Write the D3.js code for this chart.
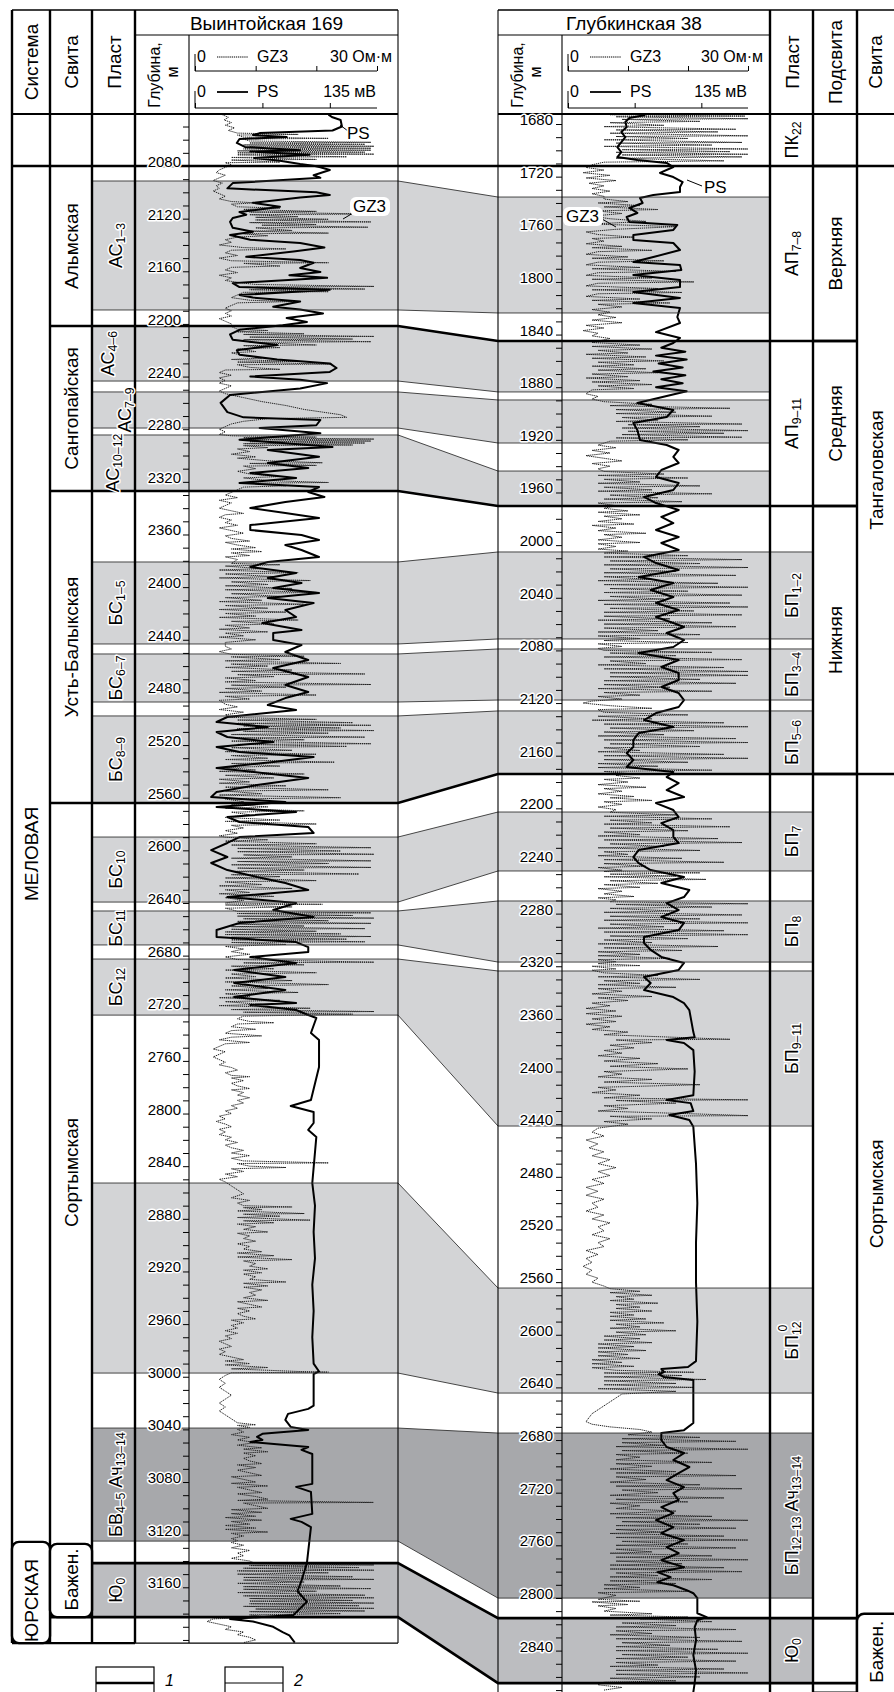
<!DOCTYPE html>
<html>
<head>
<meta charset="utf-8">
<script src="https://cdn.jsdelivr.net/npm/d3@7"></script>
<style>
  body { margin: 0; background: #fff; }
  svg { display: block; font-family: "Liberation Sans", Arial, sans-serif; }
</style>
</head>
<body>
<svg id="chart" width="894" height="1692"></svg>
<script>
// ---- данные: скважины, пласты, свиты ----
const wellNames = ["Выинтойская 169", "Глубкинская 38"];

const depthLabelsLeft = [2080, 2120, 2160, 2200, 2240, 2280, 2320, 2360, 2400, 2440, 2480, 2520, 2560, 2600,
  2640, 2680, 2720, 2760, 2800, 2840, 2880, 2920, 2960, 3000, 3040, 3080, 3120, 3160];
const depthLabelsRight = [1680, 1720, 1760, 1800, 1840, 1880, 1920, 1960, 2000, 2040, 2080, 2120, 2160, 2200,
  2240, 2280, 2320, 2360, 2400, 2440, 2480, 2520, 2560, 2600, 2640, 2680, 2720, 2760, 2800, 2840];

const leftRange = [2040.5, 3202.4];
const rightRange = [1672.4, 2872];

// пласты Выинтойской 169 (label, кровля, подошва, тип)
const leftBeds = [
  {label: "АС_{1–3}", top: 2091.4, base: 2189.4, kind: "light"},
  {label: "АС_{4–6}", top: 2201.6, base: 2243.4, kind: "light"},
  {label: "АС_{7–9}", top: 2251.7, base: 2279.1, kind: "light"},
  {label: "АС_{10–12}", top: 2284.4, base: 2327.0, kind: "light"},
  {label: "БС_{1–5}", top: 2380.9, base: 2443.2, kind: "light"},
  {label: "БС_{6–7}", top: 2450.8, base: 2487.3, kind: "light"},
  {label: "БС_{8–9}", top: 2497.9, base: 2564.0, kind: "light"},
  {label: "БС_{10}", top: 2589.9, base: 2639.3, kind: "light"},
  {label: "БС_{11}", top: 2646.1, base: 2671.9, kind: "light"},
  {label: "БС_{12}", top: 2682.6, base: 2725.2, kind: "light"},
  {label: "", top: 2852.8, base: 2997.2, kind: "light"},
  {label: "БВ_{4–5} Ач_{13–14}", top: 3039.0, base: 3124.9, kind: "dark"},
  {label: "Ю_{0}", top: 3141.6, base: 3182.7, kind: "mid"}
];

// пласты Глубкинской 38 (серые интервалы на каротаже)
const rightBeds = [
  {top: 1735.5, base: 1823.6, kind: "light"},
  {top: 1844.9, base: 1883.6, kind: "light"},
  {top: 1889.7, base: 1922.4, kind: "light"},
  {top: 1943.7, base: 1970.3, kind: "light"},
  {top: 2005.2, base: 2071.3, kind: "light"},
  {top: 2078.9, base: 2117.7, kind: "light"},
  {top: 2126.0, base: 2173.9, kind: "light"},
  {top: 2202.8, base: 2247.6, kind: "light"},
  {top: 2270.4, base: 2316.8, kind: "light"},
  {top: 2323.6, base: 2441.4, kind: "light"},
  {top: 2564.5, base: 2644.3, kind: "light"},
  {top: 2674.7, base: 2800.1, kind: "dark"},
  {top: 2815.3, base: 2864.7, kind: "mid"}
];

// колонка «Пласт» Глубкинской 38
const rightPlast = [
  {label: "ПК_{22}", top: 1672.4, base: 1711.9, kind: "none"},
  {label: "АП_{7–8}", top: 1711.9, base: 1844.9, kind: "none"},
  {label: "АП_{9–11}", top: 1844.9, base: 1970.3, kind: "none"},
  {label: "БП_{1–2}", top: 2005.2, base: 2071.3, kind: "light"},
  {label: "БП_{3–4}", top: 2078.9, base: 2117.7, kind: "light"},
  {label: "БП_{5–6}", top: 2126.0, base: 2173.9, kind: "light"},
  {label: "БП_{7}", top: 2202.8, base: 2247.6, kind: "light"},
  {label: "БП_{8}", top: 2270.4, base: 2316.8, kind: "light"},
  {label: "БП_{9–11}", top: 2323.6, base: 2441.4, kind: "light"},
  {label: "БП_{12}^{0}", top: 2564.5, base: 2644.3, kind: "light"},
  {label: "БП_{12–13} Ач_{13–14}", top: 2674.7, base: 2800.1, kind: "dark"},
  {label: "Ю_{0}", top: 2815.3, base: 2864.7, kind: "mid"}
];

const leftSystems = [["", 2040.5, 2080], ["МЕЛОВАЯ", 2080, 3125.5], ["ЮРСКАЯ", 3125.5, 3202.4]];
const leftSvitas = [["", 2040.5, 2080], ["Альмская", 2080, 2201.6], ["Сангопайская", 2201.6, 2327.0],
  ["Усть-Балыкская", 2327.0, 2564.0], ["Сортымская", 2564.0, 3125.5], ["Бажен.", 3125.5, 3182.7], ["", 3182.7, 3202.4]];
const rightSubsvitas = [["", 1672.4, 1711.9], ["Верхняя", 1711.9, 1844.9], ["Средняя", 1844.9, 1970.3],
  ["Нижняя", 1970.3, 2173.9], ["", 2173.9, 2815.3], ["", 2815.3, 2872]];
const rightSvitas = [["", 1672.4, 1711.9], ["Тангаловская", 1711.9, 2173.9], ["Сортымская", 2173.9, 2812.0], ["Бажен.", 2812.0, 2880]];

// границы свит (линия 1), парно слева/справа
const horizonsLeft = [2080, 2201.6, 2327.0, 2564.0, 3141.6, 3182.7];
const horizonsRight = [1711.9, 1844.9, 1970.3, 2173.9, 2815.3, 2864.7];

// каротаж PS (мВ) и GZ3 (Ом·м): [глубина, значение]
const psLeft = [
  [2041, 99], [2043, 102], [2045, 108], [2050, 109], [2053, 102], [2055, 48], [2056.5, 43], [2058, 68], [2059.5, 33],
  [2062.5, 31], [2065.5, 37], [2068, 78], [2069, 41], [2071.5, 85], [2074, 44], [2076, 63], [2078.5, 78], [2080, 89],
  [2081, 93], [2083, 100], [2087, 88], [2089, 93], [2093, 28], [2097, 24], [2100, 90], [2102, 100], [2104, 78],
  [2108, 43], [2111, 63], [2115, 33], [2117, 38], [2119.5, 28], [2122.5, 26], [2127, 28], [2130, 43], [2132.5, 26],
  [2136, 41], [2138.5, 78], [2142, 96], [2145, 73], [2149, 38], [2151.5, 78], [2153.5, 88], [2157.5, 78], [2160.5, 93],
  [2163, 70], [2165, 98], [2169, 28], [2172, 33], [2174, 100], [2178, 33], [2180, 43], [2183, 78], [2187, 58],
  [2189, 78], [2192, 95], [2195.5, 68], [2198.5, 83], [2201, 65], [2204.5, 33], [2208, 26], [2212, 28], [2216, 61],
  [2220, 31], [2223.5, 33], [2227, 61], [2230, 100], [2233.5, 105], [2236.5, 100], [2240, 41], [2242.5, 78],
  [2245, 98], [2249, 78], [2254, 26], [2260, 19], [2267, 24], [2271, 36], [2273, 93], [2277, 90], [2279, 48],
  [2283, 93], [2288, 33], [2293.5, 102], [2295.8, 54], [2301, 92], [2305.7, 54], [2309.5, 84], [2313.3, 41],
  [2317, 75], [2320.9, 33], [2323.9, 92], [2327.7, 84], [2331.5, 96], [2335.3, 67], [2339.9, 41], [2343.7, 67],
  [2347.5, 92], [2352.8, 41], [2356.6, 41], [2360.4, 79], [2364.2, 92], [2368, 67], [2371.8, 79], [2377.1, 92],
  [2380.9, 54], [2384.7, 41], [2389.3, 75], [2393.1, 54], [2396.9, 79], [2400.7, 58], [2404.5, 92], [2408.3, 54],
  [2412.1, 88], [2417.4, 67], [2422.7, 75], [2427.3, 50], [2432.6, 79], [2434.9, 58], [2440.2, 58], [2444, 79],
  [2449.3, 67], [2455.4, 84], [2461.5, 58], [2468.3, 84], [2474.4, 67], [2479.7, 84], [2484.3, 67], [2489.6, 54],
  [2493.4, 75], [2498.7, 24], [2502.5, 16], [2506.3, 54], [2510.1, 16], [2513.9, 24], [2517.7, 58], [2521.5, 16],
  [2525.3, 33], [2529.1, 88], [2532.9, 58], [2537.5, 16], [2541.2, 50], [2545, 84], [2550.4, 46], [2555.7, 16],
  [2559.5, 12], [2563.3, 67], [2567.1, 16], [2570.9, 75], [2574.7, 24], [2578.5, 33], [2582.3, 84], [2586.8, 88],
  [2589.9, 33], [2594.4, 24], [2599.8, 12], [2605.1, 24], [2609.6, 12], [2615, 24], [2620.3, 46], [2624.8, 67],
  [2630.2, 84], [2635.5, 24], [2640, 75], [2645.3, 58], [2650.7, 88], [2655.2, 33], [2660.5, 16], [2665.9, 16],
  [2669.7, 75], [2673.5, 84], [2677.3, 84], [2681.1, 41], [2685.6, 75], [2690.9, 29], [2696.3, 67], [2700.8, 29],
  [2706.1, 67], [2711.5, 29], [2716, 75], [2717.5, 41], [2721.3, 75], [2725.1, 84], [2727.4, 90], [2738.8, 86],
  [2744.1, 92], [2764.7, 92], [2789.7, 86], [2794.3, 71], [2798.8, 88], [2807.2, 88], [2812.5, 84], [2817.8, 90],
  [2852.8, 87], [2870, 89], [2890, 88], [2910, 89], [2930, 87], [2950, 88], [2970, 87], [2990, 88], [2996, 92],
  [2998, 88], [3010, 88], [3022, 88], [3024.4, 84], [3028.2, 69], [3032.8, 67], [3038.1, 71], [3040.4, 84],
  [3043.4, 50], [3045.7, 46], [3048, 50], [3049.6, 41], [3053.4, 84], [3055.6, 79], [3058.7, 87], [3081.4, 87],
  [3083.7, 75], [3087.5, 86], [3104.2, 87], [3108, 71], [3110.3, 79], [3114.2, 86], [3141.7, 83], [3145, 82],
  [3155, 79], [3163, 76], [3171, 83], [3181, 73], [3184, 26], [3186, 43], [3190, 58], [3194, 65], [3196.5, 70], [3202, 74]
];

const gz3Left = [
  [2041, 4.5], [2043, 5.5], [2045, 4.8], [2047, 6], [2049, 5], [2051, 6.5], [2053, 5.5], [2055, 7], [2056, 17],
  [2056.5, 7], [2058, 8], [2059, 22], [2059.5, 8], [2061, 9], [2062, 29], [2062.5, 9], [2063.5, 28], [2064, 8],
  [2065, 29.5], [2065.5, 9], [2066.5, 29], [2067, 8], [2068, 29], [2068.5, 7], [2069.5, 28], [2070, 7], [2071, 29.5],
  [2071.5, 7], [2073, 25], [2073.5, 6], [2075, 20], [2075.5, 6], [2077, 14], [2077.5, 5], [2079, 6],
  [2081, 5], [2083, 4], [2085, 3.5], [2087, 5], [2089, 4], [2091, 3], [2093, 4.5], [2095, 3.5], [2097, 4], [2099, 3],
  [2101, 4], [2103, 5], [2105, 4], [2107, 6], [2108, 10], [2109, 6], [2111, 7], [2112, 14], [2113, 8], [2114.5, 20],
  [2115, 9], [2116.5, 29.5], [2117, 9], [2118.5, 17], [2119, 10], [2120.5, 22], [2121, 10], [2122.5, 29], [2123, 9],
  [2124.5, 20], [2125, 11], [2126.5, 28.5], [2127, 10], [2129, 16], [2129.5, 9], [2131, 22], [2131.5, 8], [2133, 12],
  [2134, 7], [2136, 5], [2138, 6], [2140, 4], [2142, 8], [2143, 15], [2144, 6], [2146, 5], [2148, 7], [2150, 4],
  [2152, 6], [2153.5, 22], [2154, 8], [2156, 14], [2157, 6], [2159, 5], [2161, 7], [2163, 4], [2165, 6], [2167, 5],
  [2169, 8], [2170, 10], [2171.5, 29.5], [2172, 10], [2173.5, 28], [2174, 9], [2175.5, 22], [2176, 8], [2178, 7],
  [2180, 6], [2182, 9], [2183, 16], [2184, 7], [2186, 6], [2188, 5], [2190, 6], [2192, 5], [2194, 6], [2196, 4],
  [2198, 5], [2200, 6], [2202, 6], [2204, 7], [2205, 12], [2206, 7], [2207.5, 18], [2208, 8], [2209.5, 29.5],
  [2210, 9], [2211.5, 26], [2212, 8], [2213.5, 29], [2214, 9], [2216, 20], [2216.5, 8], [2218, 14], [2219, 7],
  [2221, 10], [2222, 6], [2224, 8], [2226, 11], [2227, 6], [2228.5, 17], [2229, 7], [2230.5, 22.5], [2231, 7],
  [2233, 9], [2234.5, 14], [2235, 5], [2237, 4], [2239, 6], [2241, 4], [2243, 5], [2245, 4], [2247, 6], [2249, 5],
  [2251, 4], [2253, 5], [2256, 8], [2259, 11], [2262, 15], [2265, 18], [2267, 21], [2269, 24], [2271, 25], [2272, 12],
  [2274, 8], [2276, 6], [2278, 5], [2280, 4], [2282, 5], [2284, 4], [2285, 6], [2286, 20], [2286.5, 8], [2287.5, 29.5],
  [2288, 9], [2289, 29], [2289.5, 9], [2290.5, 28], [2291, 8], [2292, 26], [2292.5, 8], [2294, 12], [2295, 7],
  [2297, 9], [2299, 6], [2301, 10], [2302, 7], [2304, 12], [2305.5, 21], [2306, 9], [2307.5, 20], [2308, 8],
  [2310, 10], [2312, 7], [2314, 9], [2316, 14], [2317, 8], [2319, 12], [2320.5, 22], [2321, 9], [2323, 15], [2324, 8],
  [2326, 7], [2328, 6], [2330, 5], [2332, 7], [2334, 4], [2336, 6], [2338, 5], [2340, 4], [2342, 6], [2344, 8],
  [2345, 5], [2347, 4], [2349, 6], [2351, 5], [2353, 7], [2355, 4], [2357, 6], [2359, 8], [2361, 5], [2363, 6],
  [2365, 9], [2366, 5], [2368, 7], [2370, 10], [2371, 6], [2373, 11], [2374, 6], [2376, 9], [2377, 5], [2379, 7],
  [2382, 6], [2383, 14], [2384, 5], [2386, 11], [2387, 4], [2389, 17], [2390, 5], [2392, 13], [2393, 4], [2395, 19],
  [2396, 6], [2398, 12], [2399, 5], [2401, 16], [2402, 5], [2404, 20], [2405, 6], [2407, 14], [2408, 5], [2410, 11],
  [2411, 4], [2413, 18], [2414, 5], [2416, 12], [2417, 4], [2419, 15], [2420, 5], [2422, 10], [2423, 4], [2425, 17],
  [2426, 6], [2428, 13], [2429, 5], [2431, 9], [2432, 4], [2434, 12], [2435, 5], [2437, 8], [2438, 4], [2440, 10],
  [2442, 5], [2445, 5], [2447, 6], [2449, 4], [2451, 6], [2452.5, 18], [2453, 6], [2455, 14], [2456, 5], [2458, 24],
  [2458.5, 6], [2460, 12], [2461, 5], [2463, 16], [2464, 6], [2466, 28], [2466.5, 7], [2468, 13], [2469, 5],
  [2471, 10], [2472, 5], [2474, 29], [2474.5, 6], [2476, 15], [2477, 5], [2479, 11], [2480, 4], [2482, 20], [2483, 5],
  [2485, 9], [2486, 4], [2489, 5], [2491, 7], [2493, 4], [2495, 8], [2497, 5], [2499, 6], [2500.5, 20], [2501, 7],
  [2503, 26], [2503.5, 7], [2505, 29], [2505.5, 8], [2507, 24], [2507.5, 7], [2509, 29.5], [2509.5, 8], [2511, 22],
  [2512, 6], [2514, 28], [2514.5, 7], [2516, 18], [2517, 6], [2519, 29], [2519.5, 7], [2521, 25], [2522, 6],
  [2524, 16], [2525, 5], [2527, 20], [2528, 6], [2530, 12], [2531, 5], [2533, 23], [2534, 6], [2536, 14], [2537, 5],
  [2539, 10], [2540, 4], [2542, 18], [2543, 5], [2545, 13], [2546, 4], [2548, 9], [2549, 4], [2551, 15], [2552, 5],
  [2554, 22], [2555, 5], [2557, 11], [2558, 4], [2560, 24], [2561, 5], [2563, 8], [2565, 6], [2567, 12], [2568, 5],
  [2570, 18], [2571, 6], [2573, 9], [2575, 5], [2577, 14], [2578, 5], [2580, 20], [2581, 6], [2583, 8], [2585, 5],
  [2587, 7], [2589, 4], [2590, 5], [2592, 12], [2593, 5], [2595, 20], [2596, 6], [2598, 29], [2598.5, 7],
  [2600.5, 24], [2601, 7], [2603, 29.5], [2603.5, 8], [2605, 16], [2606, 6], [2608, 29], [2608.5, 7], [2610, 22],
  [2611, 6], [2613, 29], [2613.5, 7], [2615, 18], [2616, 6], [2618, 27], [2618.5, 6], [2620, 14], [2621, 5],
  [2623, 20], [2624, 5], [2626, 11], [2627, 4], [2629, 16], [2630, 5], [2632, 9], [2633, 4], [2635, 13], [2636, 5],
  [2638, 8], [2640, 5], [2641, 21], [2641.5, 5], [2643, 16], [2644, 5], [2645, 6], [2646.5, 7], [2647.5, 29],
  [2648, 7], [2649.5, 26], [2650, 7], [2651.5, 29.5], [2652, 8], [2653.5, 22], [2654, 7], [2655.5, 29], [2656, 7],
  [2657.5, 18], [2658, 6], [2659.5, 28], [2660, 6], [2661.5, 20], [2662, 5], [2663.5, 24], [2664, 5], [2665.5, 29],
  [2666, 6], [2667.5, 25], [2668, 6], [2669.5, 28], [2670, 6], [2671.5, 15], [2673, 5], [2675, 8], [2677, 6],
  [2679, 9], [2681, 5], [2683, 7], [2685, 29.5], [2685.5, 8], [2687, 18], [2688, 6], [2690, 13], [2691, 5],
  [2693, 20], [2694, 6], [2696, 10], [2697, 5], [2699, 16], [2700, 5], [2702, 22], [2703, 6], [2705, 12], [2706, 5],
  [2708, 17], [2709, 5], [2711, 9], [2712, 4], [2714, 14], [2715, 5], [2717, 11], [2718, 4], [2720, 19], [2721, 6],
  [2722.5, 29.5], [2723, 8], [2724.5, 26], [2726, 8], [2728, 7], [2730, 9], [2731, 13], [2732, 7], [2734, 6],
  [2736, 10], [2737, 6], [2739, 5], [2741, 11], [2742, 6], [2744, 4], [2746, 9], [2747, 5], [2749, 4], [2751, 3],
  [2753, 5], [2755, 4], [2757, 3], [2759, 4], [2761, 5], [2763, 4], [2765, 6], [2767, 7], [2769, 5], [2771, 6],
  [2772, 9], [2773, 6], [2775, 8], [2777, 6], [2779, 7], [2781, 9], [2782, 6], [2784, 8], [2786, 7], [2788, 9],
  [2790, 7], [2792, 8], [2794, 6], [2796, 7], [2798, 5], [2800, 6], [2802, 4], [2804, 5], [2806, 3.5], [2808, 5],
  [2810, 6], [2812, 4], [2814, 5], [2816, 4], [2818, 6], [2820, 5], [2822, 7], [2824, 5], [2826, 6], [2828, 8],
  [2830, 6], [2832, 9], [2834, 6], [2836, 8], [2837.5, 22], [2838, 7], [2840, 9], [2841, 15], [2842, 6], [2844, 8],
  [2846, 5], [2848, 7], [2850, 4], [2852, 5], [2855, 6], [2858, 7], [2861, 8], [2864, 6], [2866, 9], [2868, 7],
  [2870, 8], [2871, 16], [2871.5, 8], [2873, 11], [2874, 7], [2876, 18], [2876.5, 8], [2878, 14], [2879, 7],
  [2881, 19], [2881.5, 8], [2883, 13], [2884, 7], [2886, 10], [2888, 8], [2890, 12], [2891, 7], [2893, 9], [2895, 8],
  [2897, 10], [2899, 7], [2901, 9], [2903, 8], [2905, 11], [2906, 7], [2908, 13], [2909, 7], [2911, 16], [2912, 8],
  [2914, 10], [2916, 9], [2918, 12], [2919, 8], [2921, 11], [2922, 8], [2924, 10], [2926, 9], [2928, 15], [2929, 8],
  [2931, 12], [2932, 8], [2934, 11], [2936, 9], [2938, 10], [2940, 8], [2942, 12], [2943, 7], [2945, 9], [2947, 11],
  [2948, 7], [2950, 9], [2952, 7], [2954, 8], [2956, 10], [2957, 6], [2959, 8], [2961, 6], [2963, 7], [2965, 5],
  [2967, 7], [2969, 5], [2971, 6], [2973, 4], [2975, 5], [2977, 6], [2979, 4], [2981, 5], [2983, 4], [2985, 6],
  [2987, 8], [2988, 5], [2990, 9], [2991, 5], [2993, 12], [2994, 6], [2996, 17], [2996.5, 22], [2997, 6], [2999, 5],
  [3002, 4], [3005, 5], [3008, 4], [3011, 5], [3014, 6], [3017, 5], [3020, 4], [3023, 5], [3026, 4], [3029, 5],
  [3032, 6], [3035, 7], [3036.5, 10], [3037, 7], [3038.5, 9], [3040, 7], [3042, 8], [3044, 6], [3046, 9], [3048, 7],
  [3050, 10], [3052, 7], [3054, 11], [3055, 8], [3057, 12], [3058, 8], [3060, 10], [3062, 8], [3064, 9], [3066, 11],
  [3067, 7], [3069, 10], [3071, 7], [3073, 9], [3075, 11], [3076, 6], [3078, 8], [3080, 10], [3081, 6], [3083, 12],
  [3084, 7], [3086, 9], [3088, 11], [3089, 7], [3091, 10], [3093, 12], [3094, 7], [3095.5, 29.4], [3096, 8],
  [3098, 10], [3100, 12], [3101, 6], [3103, 11], [3104, 6], [3106, 10], [3107, 5], [3109, 11], [3110, 6], [3112, 9],
  [3113, 5], [3115, 10], [3116, 5], [3118, 12], [3119, 6], [3121, 8], [3123, 6], [3124.5, 7], [3126, 6], [3128, 8],
  [3130, 6], [3132, 9], [3134, 7], [3136, 8], [3138, 6], [3140, 9], [3142, 10], [3143, 29.5], [3143.5, 9], [3145, 27],
  [3145.5, 8], [3147, 29.5], [3147.5, 7], [3149, 22], [3150, 7], [3152, 26], [3152.5, 8], [3154, 29.5], [3154.5, 8],
  [3156, 18], [3157, 7], [3159, 24], [3159.5, 8], [3161, 29], [3161.5, 8], [3163, 20], [3164, 7], [3166, 28],
  [3166.5, 8], [3168, 29.5], [3168.5, 9], [3170, 26], [3170.5, 9], [3172, 29.5], [3172.5, 9], [3174, 27], [3174.5, 8],
  [3176, 29.5], [3176.5, 10], [3178, 28], [3178.5, 9], [3180, 24], [3181, 9], [3182.5, 12], [3184, 3], [3186, 2],
  [3188, 4], [3190, 6], [3192, 5], [3194, 8], [3196, 7], [3198, 9], [3200, 10], [3202, 8]
];

const psRight = [
  [1673.2, 58], [1675.4, 46], [1678.5, 43], [1682.3, 44], [1686.1, 40], [1689.9, 43], [1693.7, 40], [1697.5, 37],
  [1701.3, 40], [1705.1, 37], [1707.4, 52], [1709.6, 74], [1712.7, 79], [1717.2, 69], [1720.3, 79], [1724.1, 86],
  [1727.9, 84], [1731.7, 84], [1734, 64], [1736.2, 54], [1740, 56], [1743.8, 46], [1747.6, 52], [1750.7, 44],
  [1754.5, 46], [1756.7, 82], [1760.5, 79], [1764.3, 49], [1768.1, 49], [1770.4, 79], [1775.7, 84], [1781.1, 64],
  [1784.9, 49], [1787.1, 84], [1790.9, 85], [1794.7, 49], [1798.5, 84], [1803.9, 84], [1807.7, 49], [1812.2, 84],
  [1816, 49], [1819.8, 84], [1826.7, 82], [1831.2, 84], [1838.1, 66], [1842.6, 84], [1846.4, 79], [1850, 70],
  [1853, 88], [1856, 66], [1859, 89], [1862, 68], [1865, 86], [1868, 64], [1871, 88], [1874, 70], [1877, 86],
  [1880, 66], [1883, 89], [1892, 52], [1897.3, 79], [1902.6, 74], [1907.2, 49], [1912.5, 52], [1920.1, 54],
  [1923.9, 74], [1927.7, 83], [1933, 79], [1937.6, 83], [1942.9, 70], [1948.2, 66], [1952.8, 83], [1958.1, 79],
  [1963.4, 57], [1968, 66], [1973.3, 83], [1978.6, 70], [1983.2, 79], [1988.5, 66], [1993.8, 83], [1998.4, 70],
  [2003.7, 83], [2009, 57], [2013.6, 66], [2018.9, 83], [2024.2, 53], [2028.8, 79], [2034.1, 62], [2039.4, 79],
  [2044, 66], [2049.3, 83], [2054.6, 66], [2059.2, 79], [2062.2, 87], [2066.8, 74], [2072.1, 87], [2077.4, 79],
  [2082, 53], [2087.3, 83], [2092.6, 70], [2097.2, 83], [2102.5, 83], [2107.8, 70], [2112.4, 83], [2117.7, 87],
  [2123, 83], [2127.6, 66], [2132.9, 57], [2138.2, 79], [2142.8, 53], [2148.1, 49], [2153.4, 49], [2158, 44],
  [2163.3, 49], [2168.6, 44], [2172.4, 79], [2176.2, 74], [2180.8, 83], [2186.1, 74], [2191.4, 87], [2196, 66],
  [2201.3, 79], [2206.6, 83], [2211.2, 70], [2216.5, 79], [2221.8, 79], [2226.4, 83], [2231.7, 53], [2237, 49],
  [2241.6, 53], [2246.9, 62], [2252.2, 87], [2256.7, 70], [2262.1, 91], [2267.4, 87], [2272, 74], [2277.3, 83],
  [2282.6, 70], [2287.1, 87], [2292.5, 83], [2297.8, 57], [2302.3, 57], [2307.6, 62], [2312.9, 70], [2317.5, 87],
  [2322.8, 83], [2328.2, 57], [2332.7, 62], [2338.1, 57], [2343.4, 79], [2348, 87], [2353.3, 91], [2370, 94],
  [2374, 95], [2376, 74], [2378.3, 87], [2383.7, 94], [2400, 95], [2418, 94], [2421.6, 74], [2424, 92], [2430, 94],
  [2433, 76], [2436.8, 91], [2442, 94], [2470, 96], [2500, 97], [2530, 96], [2560, 96], [2590, 97], [2620, 96],
  [2624.5, 90], [2626, 70], [2628.3, 72], [2630, 68], [2632.1, 72], [2634.4, 94], [2667.1, 94], [2672.5, 87],
  [2674.7, 70], [2680, 70], [2685.3, 74], [2689.9, 87], [2695.2, 79], [2700.5, 91], [2705.1, 83], [2710.5, 74],
  [2715.8, 87], [2720.3, 79], [2725.6, 83], [2731, 70], [2735.5, 79], [2740.9, 66], [2746.2, 79], [2750.8, 70],
  [2756.1, 87], [2761.4, 74], [2766, 83], [2771.3, 70], [2776.6, 87], [2780.4, 67], [2784.2, 77], [2788, 67],
  [2790.3, 79], [2794.1, 89], [2796.4, 94], [2800.2, 97], [2811.6, 97], [2814.6, 104], [2816.9, 97], [2822.2, 95],
  [2832.1, 96], [2843.5, 94], [2854.9, 96], [2864.7, 95], [2871.5, 94]
];

const gz3Right = [
  [1673, 7], [1674, 29.5], [1674.5, 8], [1676, 30], [1676.5, 9], [1678, 22], [1679, 7], [1681, 16], [1682, 6],
  [1684, 28], [1684.5, 8], [1686, 25], [1687, 7], [1689, 30], [1689.5, 8], [1691, 20], [1692, 6], [1694, 29],
  [1694.5, 8], [1696, 24], [1697, 6], [1699, 30], [1699.5, 9], [1701, 27], [1701.5, 8], [1703, 30], [1703.5, 9],
  [1705, 29], [1706, 8], [1708, 26], [1709, 6], [1711, 4], [1713, 3], [1715, 6], [1717, 2.5], [1719, 7], [1721, 3],
  [1723, 8], [1725, 3.5], [1727, 6], [1729, 4], [1731, 7], [1733, 4], [1735, 6], [1737, 6], [1739, 10], [1740, 5],
  [1742, 12], [1743, 6], [1745, 15], [1746, 5], [1748, 9], [1750, 4], [1752, 7], [1754, 13], [1756, 4], [1758, 18],
  [1760, 8], [1762, 3], [1764, 5], [1766, 11], [1767, 4], [1769, 6], [1771, 3], [1773, 9], [1774, 4], [1776, 14],
  [1777, 5], [1779, 3], [1781, 10], [1782, 4], [1784, 16], [1785, 5], [1787, 3], [1789, 12], [1790, 4], [1792, 18],
  [1793, 5], [1795, 3], [1797, 14], [1798, 4], [1800, 21], [1801, 5], [1803, 3], [1805, 15], [1806, 4], [1808, 19],
  [1809, 5], [1811, 3], [1813, 12], [1814, 4], [1816, 17], [1817, 5], [1819, 9], [1821, 4], [1823, 7], [1825, 5],
  [1827, 8], [1829, 4], [1831, 9], [1833, 3], [1835, 6], [1837, 2.5], [1839, 5], [1841, 4], [1843, 7], [1846, 4],
  [1848, 12], [1849, 4], [1851, 14], [1852, 5], [1854, 10], [1855, 3], [1857, 13], [1858, 4], [1860, 16], [1861, 5],
  [1863, 11], [1864, 4], [1866, 13], [1867, 5], [1869, 15], [1870, 4], [1872, 10], [1873, 3], [1875, 12], [1876, 4],
  [1878, 14], [1879, 5], [1881, 11], [1882, 4], [1885, 3], [1887, 5], [1889, 4], [1891, 6], [1893, 14], [1894, 7],
  [1896, 27], [1897, 8], [1899, 18], [1900, 8], [1902, 24], [1903, 9], [1905, 15], [1906, 8], [1908, 29],
  [1908.5, 10], [1910, 22], [1911, 9], [1913, 30], [1913.5, 10], [1915, 26], [1916, 9], [1918, 29], [1918.5, 8],
  [1920, 20], [1921, 7], [1924, 5], [1926, 8], [1928, 4], [1930, 7], [1932, 3], [1934, 6], [1936, 9], [1938, 4],
  [1940, 7], [1942, 5], [1944, 6], [1946, 16], [1947, 5], [1949, 20], [1950, 6], [1952, 12], [1953, 5], [1955, 22],
  [1956, 6], [1958, 14], [1959, 5], [1961, 24], [1962, 7], [1964, 15], [1965, 6], [1967, 19], [1968, 5], [1970, 8],
  [1972, 6], [1974, 10], [1975, 5], [1977, 12], [1978, 6], [1980, 9], [1982, 5], [1984, 11], [1985, 4], [1987, 8],
  [1989, 5], [1991, 13], [1992, 6], [1994, 9], [1996, 5], [1998, 12], [1999, 5], [2001, 8], [2003, 5], [2004.5, 10],
  [2006, 6], [2008, 20], [2009, 6], [2011, 29], [2012, 7], [2014, 22], [2015, 6], [2017, 30], [2018, 7], [2020, 18],
  [2021, 6], [2023, 28], [2024, 6], [2026, 14], [2027, 5], [2029, 25], [2030, 6], [2032, 30], [2033, 7], [2035, 20],
  [2036, 6], [2038, 29], [2039, 7], [2041, 16], [2042, 5], [2044, 27], [2045, 6], [2047, 30], [2048, 7], [2050, 21],
  [2051, 6], [2053, 29], [2054, 6], [2056, 17], [2057, 5], [2059, 24], [2060, 6], [2062, 28], [2063, 6], [2065, 15],
  [2066, 5], [2068, 22], [2069, 5], [2071, 12], [2072.5, 6], [2074, 20], [2075, 5], [2077, 9], [2078.5, 5],
  [2080, 6], [2081.5, 24], [2082, 7], [2084, 18], [2085, 6], [2087, 29], [2088, 7], [2090, 13], [2091, 5], [2093, 26],
  [2094, 6], [2096, 30], [2097, 7], [2099, 30], [2100, 7], [2102, 22], [2103, 6], [2105, 28], [2106, 6], [2108, 17],
  [2109, 5], [2111, 24], [2112, 6], [2114, 12], [2115, 5], [2117, 9], [2118.5, 4], [2120, 2.5], [2122, 7], [2124, 14],
  [2125, 5], [2127, 6], [2129, 20], [2130, 5], [2132, 14], [2133, 4], [2135, 26], [2136, 6], [2138, 30], [2139, 7],
  [2141, 21], [2142, 6], [2144, 16], [2145, 5], [2147, 28], [2148, 6], [2150, 30], [2151, 7], [2153, 22], [2154, 6],
  [2156, 12], [2157, 5], [2159, 26], [2160, 6], [2162, 30], [2163, 6], [2165, 20], [2166, 5], [2168, 15], [2169, 5],
  [2171, 24], [2172, 6], [2173.5, 10], [2175, 8], [2177, 12], [2178, 6], [2180, 10], [2182, 5], [2184, 13], [2185, 6],
  [2187, 9], [2189, 5], [2191, 11], [2192, 7], [2194, 14], [2195, 6], [2197, 9], [2199, 5], [2201, 8], [2203, 7],
  [2205, 18], [2206, 6], [2208, 24], [2209, 7], [2211, 14], [2212, 6], [2214, 27], [2215, 7], [2217, 20], [2218, 6],
  [2220, 12], [2221, 5], [2223, 25], [2224, 6], [2226, 29], [2227, 7], [2229, 16], [2230, 5], [2232, 22], [2233, 6],
  [2235, 10], [2236, 5], [2238, 19], [2239, 6], [2241, 26], [2242, 6], [2244, 13], [2245, 5], [2247, 9], [2248, 6],
  [2249, 22], [2250, 7], [2251.5, 18], [2252, 6], [2254, 23], [2255, 7], [2257, 15], [2258, 6], [2260, 12], [2261, 5],
  [2263, 9], [2265, 6], [2267, 11], [2268, 5], [2269.5, 8], [2271, 7], [2272.5, 30], [2273, 8], [2275, 24], [2276, 7],
  [2278, 18], [2279, 6], [2281, 29], [2282, 7], [2284, 22], [2285, 6], [2287, 30], [2288, 7], [2290, 16], [2291, 5],
  [2293, 26], [2294, 6], [2296, 30], [2297, 7], [2299, 20], [2300, 6], [2302, 14], [2303, 5], [2305, 25], [2306, 6],
  [2308, 19], [2309, 5], [2311, 12], [2312, 5], [2314, 17], [2315, 5], [2316.5, 8], [2318, 5], [2319.5, 12], [2320, 4],
  [2322, 8], [2323, 4], [2325, 6], [2327, 15], [2328, 5], [2330, 22], [2331, 6], [2333, 12], [2334, 5], [2336, 18],
  [2337, 5], [2339, 9], [2341, 4], [2343, 14], [2344, 5], [2346, 10], [2348, 4], [2350, 7], [2352, 3], [2354, 8],
  [2356, 3], [2358, 9], [2360, 4], [2362, 8], [2364, 3], [2366, 7], [2368, 4], [2370, 10], [2372, 6], [2374, 18],
  [2375.5, 27], [2376, 8], [2378, 14], [2380, 7], [2382, 11], [2384, 6], [2386, 9], [2388, 5], [2390, 12], [2392, 6],
  [2394, 15], [2396, 7], [2398, 20], [2400, 6], [2402, 9], [2404, 5], [2406, 14], [2408, 6], [2410, 22], [2412, 5],
  [2414, 8], [2416, 4], [2418, 12], [2420, 6], [2421.5, 30], [2422, 8], [2424, 18], [2426, 6], [2428, 10], [2430, 5],
  [2432, 20], [2433.5, 30], [2434, 7], [2436, 14], [2438, 6], [2440, 10], [2443, 5], [2446, 4], [2449, 6], [2452, 3],
  [2455, 5], [2458, 3.5], [2461, 6], [2464, 4], [2467, 7], [2470, 5], [2473, 8], [2476, 5], [2479, 7], [2482, 4],
  [2485, 6], [2488, 3], [2491, 5], [2494, 3], [2497, 6], [2500, 4], [2503, 5], [2506, 3], [2509, 6], [2512, 4],
  [2515, 7], [2518, 5], [2521, 6], [2524, 4], [2527, 7], [2530, 5], [2533, 6], [2536, 3], [2539, 5], [2542, 3],
  [2545, 4], [2548, 2.5], [2551, 4], [2554, 3], [2557, 5], [2560, 4], [2563, 6], [2565, 7], [2567, 12], [2568, 7],
  [2570, 14], [2571, 8], [2573, 11], [2574, 7], [2576, 15], [2577, 8], [2579, 12], [2580, 8], [2582, 14], [2583, 7],
  [2585, 11], [2586, 7], [2588, 13], [2589, 7], [2591, 16], [2592, 8], [2594, 12], [2595, 7], [2597, 18], [2598, 8],
  [2600, 13], [2601, 6], [2603, 12], [2604, 6], [2606, 14], [2607, 5], [2609, 11], [2610, 5], [2612, 13], [2613, 5],
  [2615, 10], [2616, 5], [2618, 12], [2619, 4], [2621, 9], [2622, 4], [2624, 11], [2625, 4], [2627, 8], [2628.5, 21],
  [2629, 6], [2631, 19], [2632, 6], [2634, 23], [2635, 6], [2637, 18], [2638, 6], [2640, 21], [2641, 5], [2643, 18],
  [2645, 9], [2648, 8], [2651, 7], [2654, 6], [2657, 5], [2660, 4], [2663, 3.5], [2666, 3], [2668, 4], [2670, 7],
  [2672, 12], [2674, 14], [2676, 10], [2678, 22], [2679, 9], [2681, 28], [2682, 9], [2684, 16], [2685, 8], [2687, 30],
  [2688, 9], [2690, 20], [2691, 8], [2693, 12], [2695, 8], [2697, 24], [2698, 8], [2700, 14], [2702, 7], [2704, 18],
  [2705, 8], [2707, 28], [2708, 8], [2710, 13], [2712, 7], [2714, 22], [2715, 8], [2717, 29], [2718, 9], [2720, 15],
  [2722, 7], [2724, 26], [2725, 8], [2727, 20], [2728, 7], [2730, 12], [2732, 8], [2734, 18], [2736, 7], [2738, 24],
  [2739, 8], [2741, 30], [2742, 9], [2744, 22], [2745, 8], [2747, 28], [2748, 8], [2750, 16], [2751, 7], [2753, 26],
  [2754, 8], [2756, 30], [2757, 9], [2759, 20], [2760, 8], [2762, 28], [2763, 8], [2765, 14], [2766, 7], [2768, 24],
  [2769, 8], [2771, 30], [2772, 8], [2774, 19], [2775, 7], [2777, 26], [2778, 7], [2780, 29], [2781, 8], [2783, 15],
  [2784, 7], [2786, 24], [2787, 7], [2789, 18], [2790, 6], [2792, 12], [2793, 6], [2795, 20], [2796, 5], [2798, 8],
  [2801, 5], [2802.5, 12], [2803, 4], [2805, 10], [2806, 5], [2808, 8], [2810, 6], [2812, 14], [2813, 7], [2814.5, 20],
  [2816, 12], [2818, 24], [2819, 9], [2821, 18], [2822, 8], [2824, 28], [2825, 8], [2827, 14], [2828, 7], [2830, 22],
  [2831, 8], [2833, 29], [2834, 9], [2836, 17], [2837, 8], [2839, 25], [2840, 8], [2842, 30], [2843, 9], [2845, 20],
  [2846, 8], [2848, 28], [2849, 8], [2851, 15], [2852, 7], [2854, 26], [2855, 8], [2857, 30], [2858, 8], [2860, 22],
  [2861, 7], [2863, 18], [2864, 6], [2866, 5], [2868, 9], [2870, 6]
];

// ---- оформление ----
const fillOf = {light: "#d3d4d6", mid: "#bcbdc0", dark: "#a7a8ab", none: "none"};
const svg = d3.select("#chart");

const yL = d3.scaleLinear().domain([2080, 3160]).range([166, 1587.3]);
const yR = d3.scaleLinear().domain([1680, 2840]).range([124, 1650.6]);
const psL = d3.scaleLinear().domain([0, 135]).range([195, 377]);
const gzL = d3.scaleLinear().domain([0, 30]).range([195, 377]);
const psR = d3.scaleLinear().domain([0, 135]).range([568, 748]);
const gzR = d3.scaleLinear().domain([0, 30]).range([568, 748]);

// разметка колонок
const L = {sys: 12, svita: 50, plast: 92, depth: 135, log: 189, right: 398};
const R = {depth: 498, log: 562, plast: 770, sub: 813, svita: 857, right: 894};
const headTop = 10, titleBot = 35, headBot = 114;

// текст с индексами: _{..} нижний, ^{..} верхний
function rich(text, str, size) {
  const parts = str.split(/(_\{[^}]*\}|\^\{[^}]*\})/).filter(s => s);
  let shift = 0, lastSubW = 0;
  parts.forEach(p => {
    let target = 0, content = p, small = false, kind = "n";
    if (p.startsWith("_{")) { target = size * 0.28; content = p.slice(2, -1); small = true; kind = "sub"; }
    else if (p.startsWith("^{")) { target = -size * 0.45; content = p.slice(2, -1); small = true; kind = "sup"; }
    const t = text.append("tspan").text(content).attr("dy", target - shift);
    if (small) t.attr("font-size", size * 0.68);
    shift = target;
    if (kind === "sup" && lastSubW > 0) {
      const w = t.node().getComputedTextLength();
      t.attr("dx", -(lastSubW + w) / 2);
    }
    lastSubW = kind === "sub" ? t.node().getComputedTextLength() : 0;
  });
}

function vLabel(g, x, y, str, size, halo) {
  const t = g.append("text")
    .attr("transform", `translate(${x},${y}) rotate(-90)`)
    .attr("text-anchor", "middle")
    .attr("dominant-baseline", "central")
    .attr("font-size", size);
  if (halo) t.attr("stroke", "#fff").attr("stroke-width", 3).attr("stroke-linejoin", "round").attr("paint-order", "stroke");
  rich(t, str, size);
  return t;
}

const gFill = svg.append("g");
const gCurves = svg.append("g");
const gLines = svg.append("g");
const gText = svg.append("g");

// серые интервалы слева
leftBeds.forEach(b => {
  gFill.append("rect").attr("x", L.plast).attr("width", L.right - L.plast)
    .attr("y", yL(b.top)).attr("height", yL(b.base) - yL(b.top)).attr("fill", fillOf[b.kind]);
});
// серые интервалы справа
rightBeds.forEach(b => {
  gFill.append("rect").attr("x", R.depth).attr("width", R.plast - R.depth)
    .attr("y", yR(b.top)).attr("height", yR(b.base) - yR(b.top)).attr("fill", fillOf[b.kind]);
});
rightPlast.filter(c => c.kind !== "none").forEach(c => {
  gFill.append("rect").attr("x", R.plast).attr("width", R.sub - R.plast)
    .attr("y", yR(c.top)).attr("height", yR(c.base) - yR(c.top)).attr("fill", fillOf[c.kind]);
});
// корреляция
leftBeds.forEach((b, i) => {
  const r = rightBeds[i];
  gFill.append("path")
    .attr("d", `M${L.right},${yL(b.top)}L${R.depth},${yR(r.top)}L${R.depth},${yR(r.base)}L${L.right},${yL(b.base)}Z`)
    .attr("fill", fillOf[b.kind]);
  [[b.top, r.top], [b.base, r.base]].forEach(([a, c]) => {
    gLines.append("line").attr("x1", L.right).attr("y1", yL(a)).attr("x2", R.depth).attr("y2", yR(c))
      .attr("stroke", "#333").attr("stroke-width", 0.9);
  });
  [b.top, b.base].forEach(d => {
    gLines.append("line").attr("x1", L.plast).attr("x2", L.right).attr("y1", yL(d)).attr("y2", yL(d))
      .attr("stroke", "#333").attr("stroke-width", 0.9);
  });
  [r.top, r.base].forEach(d => {
    gLines.append("line").attr("x1", R.depth).attr("x2", R.plast).attr("y1", yR(d)).attr("y2", yR(d))
      .attr("stroke", "#333").attr("stroke-width", 0.9);
  });
});
rightPlast.forEach(c => {
  [c.top, c.base].forEach(d => {
    gLines.append("line").attr("x1", R.plast).attr("x2", R.sub).attr("y1", yR(d)).attr("y2", yR(d))
      .attr("stroke", "#333").attr("stroke-width", 0.9);
  });
});

// кривые каротажа
const defs = svg.append("defs");
defs.append("clipPath").attr("id", "clipL").append("rect")
  .attr("x", L.log).attr("y", headBot).attr("width", L.right - L.log).attr("height", yL(leftRange[1]) - headBot);
defs.append("clipPath").attr("id", "clipR").append("rect")
  .attr("x", R.log).attr("y", headBot).attr("width", R.plast - R.log).attr("height", 1692 - headBot);

function drawLogs(clip, y, ps, gz, psData, gzData) {
  const g = gCurves.append("g").attr("clip-path", `url(#${clip})`);
  g.append("path").datum(gzData)
    .attr("d", d3.line().x(d => gz(d[1])).y(d => y(d[0])))
    .attr("fill", "none").attr("stroke", "#222").attr("stroke-width", 1).attr("stroke-dasharray", "1.3,0.8");
  g.append("path").datum(psData)
    .attr("d", d3.line().x(d => ps(d[1])).y(d => y(d[0])))
    .attr("fill", "none").attr("stroke", "#000").attr("stroke-width", 2).attr("stroke-linejoin", "round");
}
drawLogs("clipL", yL, psL, gzL, psLeft, gz3Left);
drawLogs("clipR", yR, psR, gzR, psRight, gz3Right);

// границы свит (линия 1)
const hStartL = [L.sys, L.svita, L.svita, L.svita, L.plast, L.svita];
const hEndR = [R.right, R.svita, R.svita, R.right, R.svita, R.svita];
horizonsLeft.forEach((d, i) => {
  const d2 = horizonsRight[i];
  gLines.append("path")
    .attr("d", `M${hStartL[i]},${yL(d)}H${L.right}L${R.depth},${yR(d2)}H${hEndR[i]}`)
    .attr("fill", "none").attr("stroke", "#000").attr("stroke-width", 2.6);
});

// рамки таблиц
const frame = gLines.append("g").attr("stroke", "#000").attr("fill", "none");
const botL = yL(leftRange[1]);
[[L.sys, 2.4], [L.svita, 2.4], [L.plast, 2.4], [L.depth, 2.4]].forEach(([x, w]) => {
  frame.append("line").attr("x1", x).attr("x2", x).attr("y1", headTop).attr("y2", botL).attr("stroke-width", w);
});
[L.log, L.right].forEach(x => {
  frame.append("line").attr("x1", x).attr("x2", x).attr("y1", x === L.log ? titleBot : headTop).attr("y2", botL).attr("stroke-width", 1.1);
});
frame.append("line").attr("x1", L.sys).attr("x2", L.right).attr("y1", headTop).attr("y2", headTop).attr("stroke-width", 1.6);
frame.append("line").attr("x1", L.depth).attr("x2", L.right).attr("y1", titleBot).attr("y2", titleBot).attr("stroke-width", 1.1);
frame.append("line").attr("x1", L.sys).attr("x2", L.right).attr("y1", headBot).attr("y2", headBot).attr("stroke-width", 1.8);
frame.append("line").attr("x1", L.sys).attr("x2", L.depth).attr("y1", botL).attr("y2", botL).attr("stroke-width", 2.4);
frame.append("line").attr("x1", L.depth).attr("x2", L.right).attr("y1", botL).attr("y2", botL).attr("stroke-width", 1.2);

[R.depth, R.log].forEach(x => {
  frame.append("line").attr("x1", x).attr("x2", x).attr("y1", x === R.log ? titleBot : headTop).attr("y2", 1692).attr("stroke-width", 1.1);
});
[R.plast, R.sub, R.svita].forEach(x => {
  frame.append("line").attr("x1", x).attr("x2", x).attr("y1", headTop).attr("y2", 1692).attr("stroke-width", 2.4);
});
frame.append("line").attr("x1", R.depth).attr("x2", R.right).attr("y1", headTop).attr("y2", headTop).attr("stroke-width", 1.6);
frame.append("line").attr("x1", R.depth).attr("x2", R.plast).attr("y1", titleBot).attr("y2", titleBot).attr("stroke-width", 1.1);
frame.append("line").attr("x1", R.depth).attr("x2", R.right).attr("y1", headBot).attr("y2", headBot).attr("stroke-width", 1.8);

// подсвиты справа: границы
rightSubsvitas.forEach(s => {
  frame.append("line").attr("x1", R.sub).attr("x2", R.svita).attr("y1", yR(s[2])).attr("y2", yR(s[2])).attr("stroke-width", 2.4);
});

// вкладки ЮРСКАЯ и Бажен.
const tabs = gLines.append("g").attr("stroke", "#000").attr("stroke-width", 2.4).attr("fill", "#fff");
tabs.append("rect").attr("x", L.sys).attr("y", yL(leftSystems[2][1])).attr("width", L.svita - L.sys)
  .attr("height", botL - yL(leftSystems[2][1])).attr("rx", 7);
tabs.append("rect").attr("x", L.svita).attr("y", yL(leftSvitas[5][1]) + 2).attr("width", L.plast - L.svita)
  .attr("height", yL(leftSvitas[5][2]) - yL(leftSvitas[5][1]) - 2).attr("rx", 7);
tabs.append("rect").attr("x", R.svita).attr("y", yR(rightSvitas[3][1])).attr("width", 60)
  .attr("height", 200).attr("rx", 7);

// глубины: засечки
function depthAxis(y, x, range, labels, labelX) {
  const minor = d3.range(Math.ceil(range[0] / 10) * 10, range[1], 10);
  gLines.append("g").attr("transform", `translate(${x},0)`)
    .call(d3.axisLeft(y).tickValues(minor).tickSize(6).tickFormat(""))
    .call(a => a.select(".domain").remove())
    .selectAll("line").attr("stroke", "#000").attr("stroke-width", 1);
  gText.selectAll(null).data(labels).join("text")
    .attr("x", labelX).attr("y", d => y(d) + 1)
    .attr("text-anchor", "end").attr("font-size", 15)
    .attr("stroke", "#fff").attr("stroke-width", 3).attr("stroke-linejoin", "round").attr("paint-order", "stroke")
    .text(d => d);
}
depthAxis(yL, L.log, leftRange, depthLabelsLeft, 181);
depthAxis(yR, R.log, rightRange, depthLabelsRight, 553);

// шапка
function header(x0, x1, logX, gz, ps, name) {
  gText.append("text").attr("x", (x0 + x1) / 2).attr("y", 30).attr("text-anchor", "middle")
    .attr("font-size", 19).text(name);
  vLabel(gText, x0 + 19, 75, "Глубина,", 16);
  vLabel(gText, x0 + 37, 72, "м", 16);
  [[gz, 71, 62, "GZ3", "30 Ом·м", true], [ps, 108, 97, "PS", "135 мВ", false]].forEach(([sc, ay, by, nm, unit, dotted]) => {
    const g = gLines.append("g").attr("transform", `translate(0,${ay})`)
      .call(d3.axisTop(sc).ticks(4).tickSize(5).tickSizeOuter(0).tickFormat(""));
    g.select(".domain").attr("stroke", "#000").attr("d", `M${sc.range()[0]},0H${sc.range()[1]}`);
    g.selectAll("line").attr("stroke", "#000").attr("stroke-width", 1);
    gLines.append("line").attr("x1", sc.range()[0]).attr("x2", sc.range()[0]).attr("y1", ay - 17).attr("y2", ay)
      .attr("stroke", "#000");
    gText.append("text").attr("x", sc.range()[0] + 2).attr("y", by).attr("font-size", 16).text("0");
    gLines.append("line").attr("x1", sc.range()[0] + 22).attr("x2", sc.range()[0] + 53).attr("y1", by - 5).attr("y2", by - 5)
      .attr("stroke", "#000").attr("stroke-width", dotted ? 1 : 1.8).attr("stroke-dasharray", dotted ? "1.3,0.8" : null);
    gText.append("text").attr("x", sc.range()[0] + 62).attr("y", by).attr("font-size", 16).text(nm);
    gText.append("text").attr("x", sc.range()[1] + (dotted ? 15 : -1)).attr("y", by).attr("text-anchor", "end")
      .attr("font-size", 16).text(unit);
  });
}
header(L.depth, L.right, L.log, gzL, psL, wellNames[0]);
header(R.depth, R.plast, R.log, gzR, psR, wellNames[1]);

vLabel(gText, (L.sys + L.svita) / 2, 62, "Система", 19);
vLabel(gText, (L.svita + L.plast) / 2, 62, "Свита", 19);
vLabel(gText, (L.plast + L.depth) / 2, 62, "Пласт", 19);
vLabel(gText, (R.plast + R.sub) / 2, 62, "Пласт", 19);
vLabel(gText, (R.sub + R.svita) / 2, 62, "Подсвита", 19);
vLabel(gText, (R.svita + R.right) / 2 - 1, 62, "Свита", 19);

// подписи систем и свит
leftSystems.forEach(s => { if (s[0]) vLabel(gText, (L.sys + L.svita) / 2, (yL(s[1]) + yL(s[2])) / 2 + (s[0] === "ЮРСКАЯ" ? 8 : 0), s[0], 19); });
leftSvitas.forEach(s => { if (s[0]) vLabel(gText, (L.svita + L.plast) / 2, (yL(s[1]) + yL(s[2])) / 2, s[0], 19); });
rightSubsvitas.forEach(s => { if (s[0]) vLabel(gText, (R.sub + R.svita) / 2, (yR(s[1]) + yR(s[2])) / 2, s[0], 19); });
rightSvitas.forEach(s => {
  if (!s[0]) return;
  const yc = s[0] === "Бажен." ? yR(s[1]) + 38 : (yR(s[1]) + yR(s[2])) / 2;
  vLabel(gText, (R.svita + R.right) / 2, yc, s[0], 19);
});

// подписи пластов
const dxLeft = {"АС_{4–6}": -8, "АС_{7–9}": 9, "АС_{10–12}": -3};
leftBeds.forEach(b => {
  if (!b.label) return;
  vLabel(gText, (L.plast + L.depth) / 2 + 2 + (dxLeft[b.label] || 0), (yL(b.top) + yL(b.base)) / 2, b.label, 18, true);
});
rightPlast.forEach(c => {
  vLabel(gText, (R.plast + R.sub) / 2, (yR(c.top) + yR(c.base)) / 2, c.label, 18, c.kind !== "none");
});

// выноски PS / GZ3
function callout(x, y, str, box, lx1, ly1, lx2, ly2) {
  gText.append("line").attr("x1", lx1).attr("y1", ly1).attr("x2", lx2).attr("y2", ly2).attr("stroke", "#000").attr("stroke-width", 1);
  if (box) {
    gText.append("rect").attr("x", x - 3).attr("y", y - 15).attr("width", 40).attr("height", 19).attr("rx", 6).attr("fill", "#fff");
  }
  gText.append("text").attr("x", x).attr("y", y).attr("font-size", 17)
    .attr("stroke", "#fff").attr("stroke-width", 3).attr("paint-order", "stroke").text(str);
}
callout(347, 139, "PS", false, 340, 125, 348, 131);
callout(353, 212, "GZ3", true, 343, 219, 353, 213);
callout(704, 193, "PS", false, 687, 180, 702, 186);
callout(566, 222, "GZ3", true, 616, 227, 602, 219);

// легенда
const legendItems = [["1", 2.6], ["2", 1]];
legendItems.forEach((it, i) => {
  const x = 96 + i * 129;
  gLines.append("rect").attr("x", x).attr("y", 1667).attr("width", 58).attr("height", 40)
    .attr("fill", "none").attr("stroke", "#000").attr("stroke-width", 1.2);
  gLines.append("line").attr("x1", x).attr("x2", x + 58).attr("y1", 1683).attr("y2", 1683)
    .attr("stroke", "#000").attr("stroke-width", it[1]);
  gText.append("text").attr("x", x + 69).attr("y", 1686).attr("font-size", 16).attr("font-style", "italic").text(it[0]);
});
</script>
</body>
</html>
